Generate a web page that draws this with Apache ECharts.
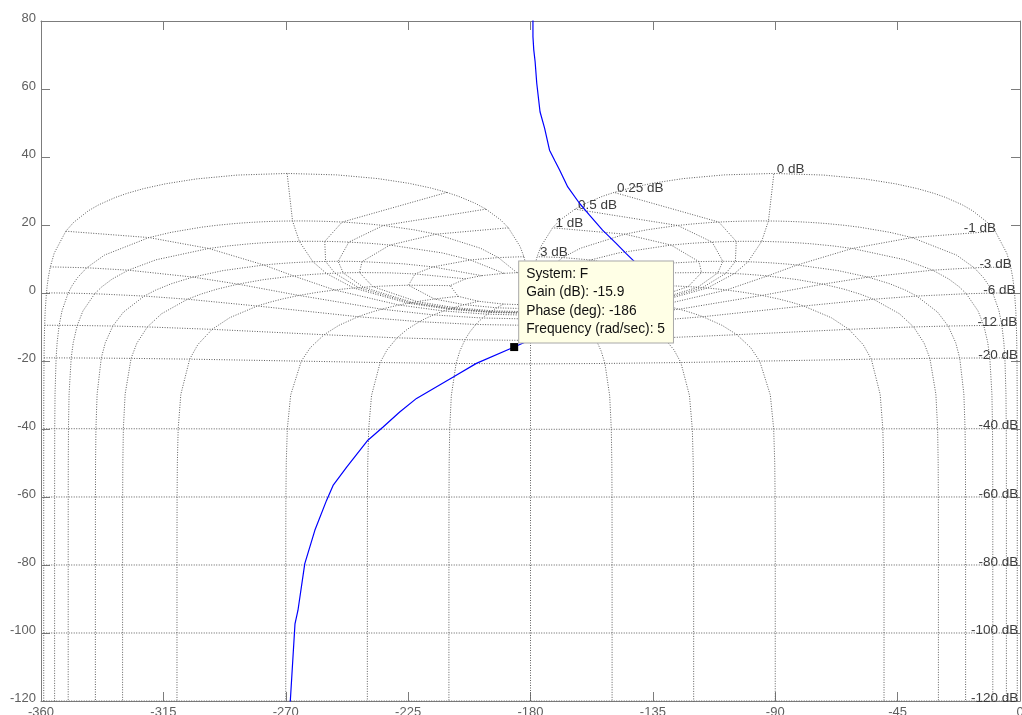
<!DOCTYPE html>
<html>
<head>
<meta charset="utf-8">
<title>Nichols chart</title>
<script src="https://cdn.jsdelivr.net/npm/echarts@6/dist/echarts.min.js"></script>
<style>
  html, body { margin: 0; padding: 0; background: #ffffff; }
  #chart { width: 1022px; height: 715px; }
</style>
</head>
<body>
<div id="chart"></div>
<script>
// Open-loop response of system F: phase (deg) and gain (dB)
const phaseDeg = [
  -179.1, -179.1, -178.8, -178.3, -177.7, -176.5, -174.8, -173.0, -171.0, -169.3,
  -166.3, -162.0, -158.3, -153.5, -148.5, -144.8, -141.1, -138.6, -137.6, -138.4,
  -141.8, -147.5, -155.5, -164.5, -173.5, -180.4, -186.0, -199.9, -208.4, -221.9,
  -228.1, -234.2, -239.8, -247.6, -252.6, -255.0, -259.3, -263.0, -265.5, -266.6,
  -268.4
];
const gainDb = [
   81.0,  75.4,  71.5,  68.0,  61.7,  53.3,  48.4,  42.0,  38.8,  36.2,
   31.2,  26.4,  22.9,  18.5,  14.6,  11.6,   8.7,   5.6,   2.2,  -1.3,
   -4.6,  -7.8, -10.3, -12.1, -13.3, -13.9, -15.9, -20.7, -24.7, -31.0,
  -35.0, -39.4, -43.3, -51.2, -56.6, -61.0, -69.8, -79.6, -93.3, -97.3,
  -121.0
];

// Data tip on the response
const tipSystem = 'F';
const tipGain = -15.9;
const tipPhase = -186;
const tipFreq = 5;

// Axis ticks
const xTicks = [-360, -315, -270, -225, -180, -135, -90, -45, 0];
const yTicks = [-120, -100, -80, -60, -40, -20, 0, 20, 40, 60, 80];

// Nichols grid: closed-loop gain levels (dB), each drawn and labelled
const clGainLevels = [6, 3, 1, 0.5, 0.25, 0, -1, -3, -6, -12, -20, -40, -60, -80, -100, -120];
// Closed-loop phase levels (deg) for the iso-phase curves (also vertices of iso-gain curves)
const clPhaseLevels = [1, 5, 10, 20, 30, 50, 90, 120, 150, 180, 210, 240, 270, 310, 330, 340, 350, 355, 359];
// Closed-loop gain samples (dB) along each iso-phase curve
const clGainSamples = [6, 3, 2, 1, 0.75, 0.5, 0.4, 0.3, 0.25, 0.2, 0.15, 0.1, 0.05, 0,
  -0.05, -0.1, -0.15, -0.2, -0.25, -0.3, -0.4, -0.5, -0.75, -1, -2, -3, -4, -5, -6,
  -9, -12, -16, -20, -30, -40, -50, -60, -70, -80, -90, -100, -110, -120, -130];

// Open-loop point G = T/(1-T) for a closed-loop T of given gain (dB) and phase (deg)
function openLoop(mDb, phDeg) {
  const m = Math.pow(10, mDb / 20);
  const p = phDeg * Math.PI / 180;
  const tr = m * Math.cos(p), ti = m * Math.sin(p);
  const dr = 1 - tr, di = -ti;
  const den = dr * dr + di * di;
  const gr = (tr * dr + ti * di) / den;
  const gi = (ti * dr - tr * di) / den;
  let ph = Math.atan2(gi, gr) * 180 / Math.PI;
  ph = ((ph % 360) + 360) % 360 - 360;      // into [-360, 0)
  return [ph, 10 * Math.log10(gr * gr + gi * gi)];
}

const gridLine = {
  type: 'line',
  showSymbol: false,
  symbol: 'none',
  silent: true,
  z: 1,
  lineStyle: { color: '#5e5e5e', width: 1, type: [1, 1.5] }
};

const series = [];
// iso-gain curves
clGainLevels.forEach(function (g) {
  series.push(Object.assign({}, gridLine, {
    data: clPhaseLevels.map(function (p) { return openLoop(g, p); })
  }));
});
// iso-phase curves
clPhaseLevels.forEach(function (p) {
  series.push(Object.assign({}, gridLine, {
    data: clGainSamples.map(function (m) { return openLoop(m, p); })
  }));
});

// grid labels, placed at the -1 deg closed-loop point of each iso-gain curve
series.push({
  type: 'scatter',
  silent: true,
  z: 3,
  symbol: 'circle',
  symbolSize: 0.1,
  itemStyle: { color: 'rgba(0,0,0,0)', opacity: 1 },
  data: clGainLevels.map(function (g) {
    const pt = openLoop(g, -1);
    const neg = g < 0;
    return {
      value: pt,
      label: {
        show: true,
        formatter: g + ' dB',
        position: neg ? [1, -3] : [3, -4],
        align: neg ? 'right' : 'left',
        verticalAlign: 'middle'
      }
    };
  }),
  label: {
    fontFamily: 'Liberation Sans, Arial, sans-serif',
    fontSize: 13.5,
    color: '#3c3c3c',
    opacity: 1
  }
});

// frequency response
series.push({
  type: 'line',
  name: tipSystem,
  showSymbol: false,
  symbol: 'none',
  silent: true,
  z: 5,
  lineStyle: { color: '#0000ff', width: 1.2 },
  data: phaseDeg.map(function (p, i) { return [p, gainDb[i]]; })
});

// data tip marker and box
series.push({
  type: 'scatter',
  silent: true,
  z: 10,
  symbol: 'rect',
  symbolSize: 8,
  itemStyle: { color: '#000000', opacity: 1 },
  data: [[tipPhase, tipGain]],
  label: {
    show: true,
    opacity: 1,
    position: [9, -0.5],
    align: 'left',
    verticalAlign: 'bottom',
    formatter: [
      'System: ' + tipSystem,
      'Gain (dB): ' + tipGain,
      'Phase (deg): ' + tipPhase,
      'Frequency (rad/sec): ' + tipFreq
    ].join('\n'),
    fontFamily: 'Liberation Sans, Arial, sans-serif',
    fontSize: 13.8,
    lineHeight: 18.5,
    color: '#111111',
    backgroundColor: '#ffffe6',
    borderColor: '#a8a8a8',
    borderWidth: 1,
    padding: [3, 8, 4, 7]
  }
});

const axisColor = '#7c7c7c';
const labelFont = { fontFamily: 'Liberation Sans, Arial, sans-serif', fontSize: 13, color: '#5f5f5f' };

const option = {
  animation: false,
  backgroundColor: '#ffffff',
  grid: { left: 41, right: 2, top: 21, bottom: 14, containLabel: false, outerBoundsMode: 'none' },
  xAxis: [
    {
      type: 'value', position: 'bottom',
      min: xTicks[0], max: xTicks[xTicks.length - 1], interval: 45,
      axisLine: { show: true, onZero: false, lineStyle: { color: axisColor, width: 1 } },
      axisTick: { show: true, inside: true, length: 9, lineStyle: { color: axisColor } },
      axisLabel: Object.assign({ show: true, margin: 5, showMinLabel: true, showMaxLabel: true, hideOverlap: false,
        formatter: function (v) { return xTicks.indexOf(v) >= 0 ? String(v) : ''; } }, labelFont),
      splitLine: { show: false }
    },
    {
      type: 'value', position: 'top',
      min: xTicks[0], max: xTicks[xTicks.length - 1], interval: 45,
      axisLine: { show: true, onZero: false, lineStyle: { color: axisColor, width: 1 } },
      axisTick: { show: true, inside: true, length: 9, lineStyle: { color: axisColor } },
      axisLabel: { show: false },
      splitLine: { show: false }
    }
  ],
  yAxis: [
    {
      type: 'value', position: 'left',
      min: yTicks[0], max: yTicks[yTicks.length - 1], interval: 20,
      axisLine: { show: true, onZero: false, lineStyle: { color: axisColor, width: 1 } },
      axisTick: { show: true, inside: true, length: 9, lineStyle: { color: axisColor } },
      axisLabel: Object.assign({ show: true, margin: 5, showMinLabel: true, showMaxLabel: true,
        formatter: function (v) { return yTicks.indexOf(v) >= 0 ? '{t|' + v + '}' : ''; },
        rich: { t: { fontFamily: 'Liberation Sans, Arial, sans-serif', fontSize: 13, color: '#5f5f5f', padding: [0, 0, 6, 0] } }
      }, labelFont),
      splitLine: { show: false }
    },
    {
      type: 'value', position: 'right',
      min: yTicks[0], max: yTicks[yTicks.length - 1], interval: 20,
      axisLine: { show: true, onZero: false, lineStyle: { color: axisColor, width: 1 } },
      axisTick: { show: true, inside: true, length: 9, lineStyle: { color: axisColor } },
      axisLabel: { show: false },
      splitLine: { show: false }
    }
  ],
  series: series
};

const chart = echarts.init(document.getElementById('chart'), null, { renderer: 'canvas' });
chart.setOption(option);
</script>
</body>
</html>
